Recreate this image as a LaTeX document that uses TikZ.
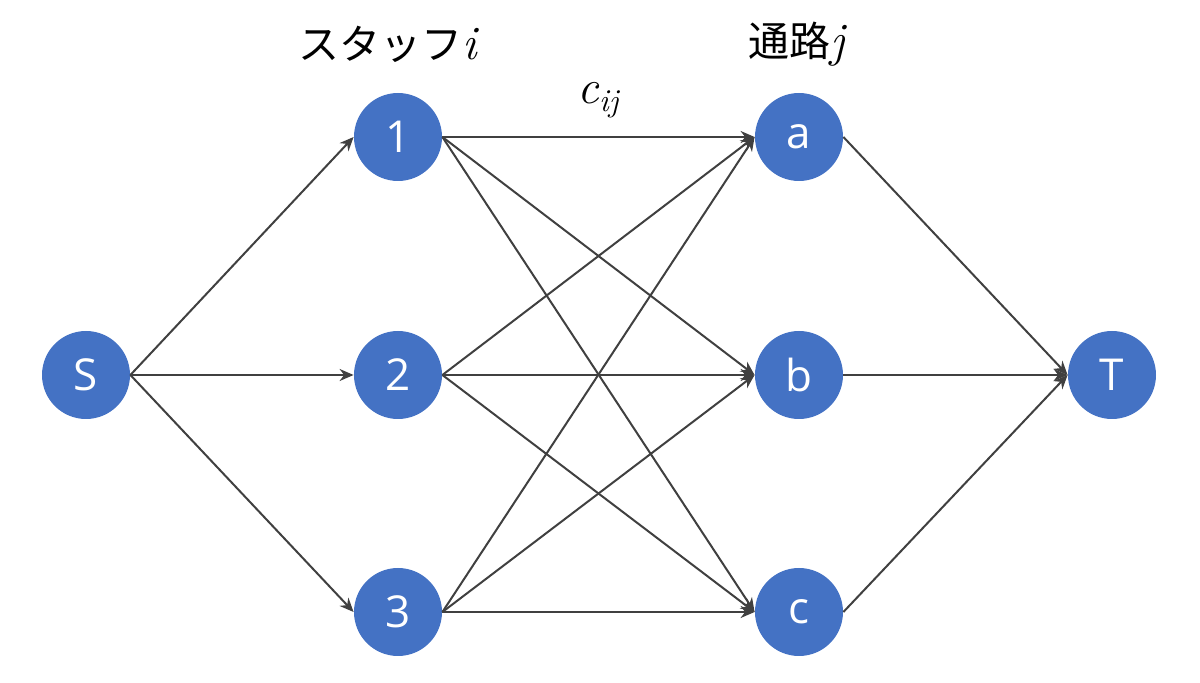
\documentclass[tikz,border=0pt]{standalone}
\usepackage{fontspec}
\setmainfont{Open Sans}
\newfontfamily\jpfont{Noto Sans CJK JP}
\newfontfamily\mitfont{Latin Modern Roman}
\usetikzlibrary{arrows.meta}
\definecolor{nodeblue}{HTML}{4472C4}
\definecolor{edgegray}{HTML}{404040}
\newcommand{\mvar}[1]{{\mitfont\itshape #1}}
\tikzset{
  vtx/.style={circle, fill=nodeblue, draw=none, minimum size=44pt, inner sep=0pt, text=white, font=\fontsize{22}{24}\selectfont},
  edge/.style={draw=edgegray, line width=1pt, -{Stealth[length=7pt,width=6pt]}},
  ttl/.style={font=\fontsize{20.5}{24}\selectfont, inner sep=0pt}
}
\begin{document}
\begin{tikzpicture}[x=0.5pt,y=-0.5pt]
\useasboundingbox (0,0) rectangle (1200,683);
\node[vtx] (S) at (86,375) {S};
\node[vtx] (n1) at (398,137) {1};
\node[vtx] (n2) at (398,375) {2};
\node[vtx] (n3) at (398,612) {3};
\node[vtx] (a) at (799,137) {a};
\node[vtx] (b) at (799,375) {b};
\node[vtx] (c) at (799,612) {c};
\node[vtx] (T) at (1112,375) {T};
\node[ttl] (ts) at (388,44) {\jpfont スタッフ{\fontsize{24}{26}\selectfont\mvar{i}}};
\node[ttl] (tj) at (797,44) {\jpfont 通路{\fontsize{24}{26}\selectfont\mvar{j}}};
\node[ttl, font=\fontsize{24}{26}\selectfont] (cij) at (598,100) {\mvar{c}\raisebox{-4pt}{\fontsize{16}{17}\selectfont\mvar{ij}}};
\foreach \i in {n1,n2,n3}{
  \draw[edge] (S.east) -- (\i.west);
  \foreach \j in {a,b,c}{
    \draw[edge] (\i.east) -- (\j.west);
  }
}
\foreach \j in {a,b,c}{
  \draw[edge] (\j.east) -- (T.west);
}
\end{tikzpicture}
\end{document}
